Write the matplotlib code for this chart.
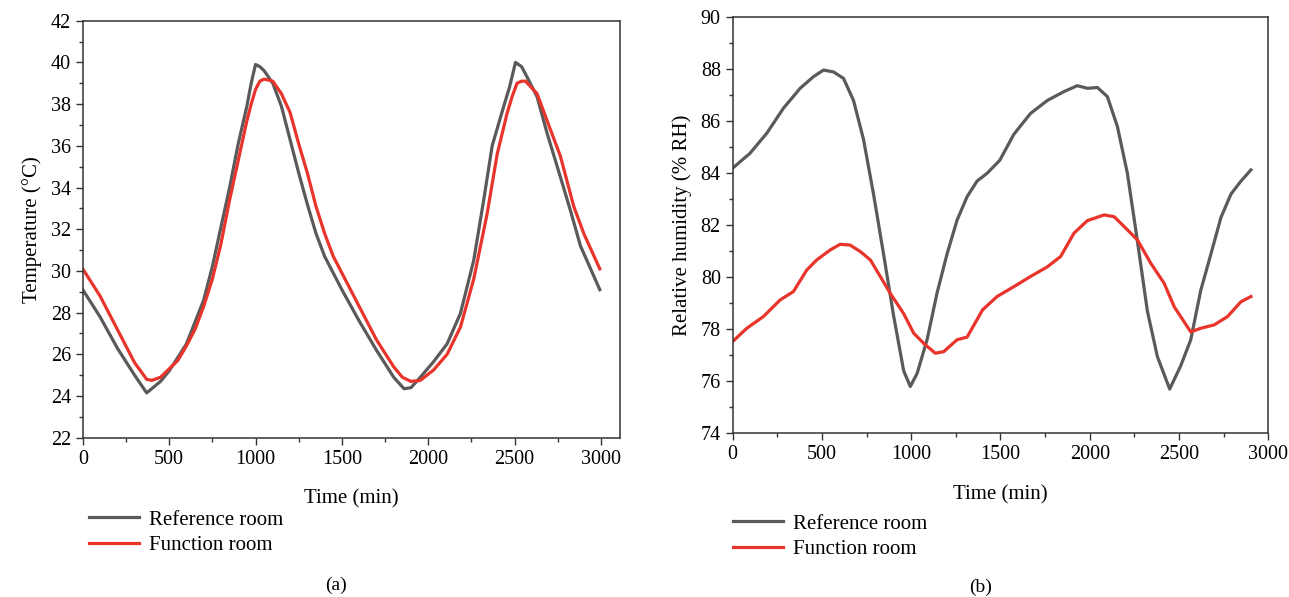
"""
Temperature and relative humidity of the reference room and the function room
over a two-day test period.
"""

import matplotlib.pyplot as plt
from matplotlib.ticker import MultipleLocator

plt.rcParams["font.family"] = ["Liberation Serif", "DejaVu Serif"]

# (a) temperature, degC
temp_ref_t = [0, 100, 200, 300, 370, 450, 500, 600, 700, 750, 800, 850, 900, 950,
              975, 1000, 1025, 1050, 1100, 1150, 1200, 1250, 1300, 1350, 1400,
              1450, 1500, 1600, 1700, 1800, 1860, 1900, 1954, 2031, 2109, 2186,
              2263, 2321, 2370, 2437, 2470, 2505, 2540, 2572, 2630, 2688, 2765,
              2823, 2881, 2993]
temp_ref = [29.1, 27.8, 26.3, 25.0, 24.15, 24.7, 25.2, 26.5, 28.6, 30.2, 32.1,
            34.0, 36.1, 37.9, 39.0, 39.9, 39.8, 39.6, 39.0, 37.9, 36.3, 34.7,
            33.2, 31.8, 30.7, 29.9, 29.1, 27.6, 26.2, 24.9, 24.35, 24.4, 24.9,
            25.65, 26.5, 27.96, 30.5, 33.4, 36.0, 37.9, 38.8, 40.0, 39.8, 39.3,
            38.35, 36.6, 34.5, 32.9, 31.2, 29.1]

temp_fun_t = [0, 100, 200, 300, 370, 400, 450, 500, 550, 600, 650, 700, 750,
              800, 850, 900, 950, 975, 1000, 1025, 1050, 1100, 1150, 1200, 1250,
              1300, 1350, 1400, 1450, 1500, 1600, 1700, 1800, 1850, 1900, 1954,
              2031, 2109, 2186, 2263, 2341, 2399, 2456, 2485, 2514, 2540, 2563,
              2630, 2688, 2765, 2842, 2900, 2993]
temp_fun = [30.1, 28.8, 27.2, 25.6, 24.8, 24.75, 24.9, 25.3, 25.7, 26.4, 27.2,
            28.3, 29.6, 31.3, 33.4, 35.3, 37.2, 38.0, 38.7, 39.1, 39.2, 39.1,
            38.5, 37.6, 36.1, 34.7, 33.1, 31.8, 30.7, 29.9, 28.3, 26.7, 25.4,
            24.9, 24.7, 24.75, 25.25, 26.0, 27.3, 29.6, 32.75, 35.6, 37.55,
            38.35, 39.0, 39.1, 39.1, 38.5, 37.2, 35.5, 33.1, 31.8, 30.1]

# (b) relative humidity, % RH
rh_ref_t = [0, 97, 191, 284, 378, 453, 509, 565, 621, 677, 733, 789, 845, 902,
            958, 995, 1033, 1089, 1145, 1201, 1257, 1313, 1369, 1425, 1496, 1575,
            1668, 1762, 1855, 1930, 1987, 2043, 2099, 2155, 2211, 2267, 2323,
            2379, 2448, 2510, 2566, 2622, 2679, 2735, 2791, 2847, 2903]
rh_ref = [84.2, 84.77, 85.54, 86.5, 87.27, 87.72, 87.97, 87.9, 87.65, 86.8, 85.3,
          83.2, 80.9, 78.5, 76.4, 75.8, 76.3, 77.6, 79.4, 80.9, 82.2, 83.1, 83.7,
          84.0, 84.5, 85.5, 86.3, 86.8, 87.14, 87.37, 87.27, 87.3, 86.95, 85.8,
          84.0, 81.4, 78.7, 76.95, 75.7, 76.6, 77.6, 79.5, 80.9, 82.3, 83.2,
          83.7, 84.13]

rh_fun_t = [0, 79, 172, 266, 340, 415, 471, 546, 602, 658, 715, 771, 827, 883,
            958, 1014, 1070, 1135, 1182, 1257, 1313, 1400, 1481, 1575, 1668,
            1762, 1837, 1912, 1987, 2081, 2137, 2193, 2267, 2342, 2417, 2473,
            2566, 2622, 2697, 2772, 2847, 2903]
rh_fun = [77.53, 78.04, 78.49, 79.13, 79.45, 80.28, 80.67, 81.05, 81.27, 81.24,
          80.99, 80.67, 80.03, 79.38, 78.6, 77.85, 77.46, 77.08, 77.14, 77.6,
          77.7, 78.75, 79.26, 79.64, 80.03, 80.4, 80.8, 81.7, 82.18, 82.4,
          82.33, 81.95, 81.44, 80.54, 79.77, 78.87, 77.9, 78.04, 78.17, 78.49,
          79.06, 79.26]

GRAY = "#5b5a5a"
RED = "#e8342b"

fig = plt.figure(figsize=(12.89, 5.97), dpi=100)
ax1 = fig.add_axes([0.0642, 0.2668, 0.4168, 0.6985])
ax2 = fig.add_axes([0.5684, 0.2742, 0.4155, 0.6968])


def style_axis(ax):
    ax.tick_params(which="both", direction="out", top=False, right=False,
                   labelsize=14.5, color="#333333")
    ax.tick_params(which="major", length=5, width=1)
    ax.tick_params(which="minor", length=3, width=1)
    for sp in ax.spines.values():
        sp.set_linewidth(1.1)
        sp.set_color("#333333")
    ax.xaxis.set_major_locator(MultipleLocator(500))
    ax.xaxis.set_minor_locator(MultipleLocator(250))
    ax.yaxis.set_major_locator(MultipleLocator(2))
    ax.yaxis.set_minor_locator(MultipleLocator(1))
    ax.set_xlabel("Time (min)", fontsize=15, labelpad=15)


legend_kw = dict(frameon=False, fontsize=15, handlelength=2.4,
                 handletextpad=0.5, labelspacing=0.3, borderpad=0,
                 borderaxespad=0, loc="upper left")

# Temperature
ax1.plot(temp_ref_t, temp_ref, color=GRAY, lw=2.3, label="Reference room")
ax1.plot(temp_fun_t, temp_fun, color=RED, lw=2.3, label="Function room")
ax1.set_xlim(0, 3110)
ax1.set_ylim(22, 42)
ax1.set_ylabel("Temperature (°C)", fontsize=15, labelpad=6)
style_axis(ax1)
ax1.set_xticks(range(0, 3001, 500))
ax1.legend(bbox_to_anchor=(89 / 1289, 1 - 510 / 597),
           bbox_transform=fig.transFigure, **legend_kw)

# Relative humidity
ax2.plot(rh_ref_t, rh_ref, color=GRAY, lw=2.3, label="Reference room")
ax2.plot(rh_fun_t, rh_fun, color=RED, lw=2.3, label="Function room")
ax2.set_xlim(0, 3000)
ax2.set_ylim(74, 90)
ax2.set_ylabel("Relative humidity (% RH)", fontsize=15, labelpad=6)
style_axis(ax2)
ax2.legend(bbox_to_anchor=(733 / 1289, 1 - 514 / 597),
           bbox_transform=fig.transFigure, **legend_kw)

fig.text(336 / 1289, 1 - 585 / 597, "(a)", ha="center", va="center", fontsize=14)
fig.text(981 / 1289, 1 - 587 / 597, "(b)", ha="center", va="center", fontsize=14)

plt.savefig("out.png", dpi=100)
